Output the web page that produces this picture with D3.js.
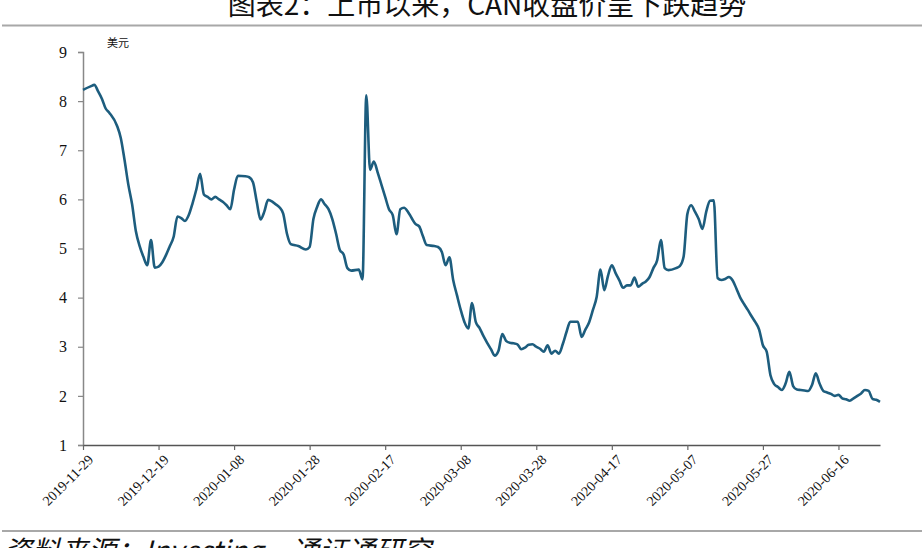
<!DOCTYPE html>
<html><head><meta charset="utf-8">
<script src="https://cdn.jsdelivr.net/npm/d3@7"></script>
<style>
html,body{margin:0;padding:0;background:#fff;overflow:hidden;}
svg{display:block;}
</style></head>
<body>
<svg id="chart" width="924" height="548"></svg>
<script>
const titleText = "图表2：上市以来，CAN收盘价呈下跌趋势";
const sourceText = "资料来源：Investing，通证通研究";
const unitLabel = "美元";
const yTicks = [1,2,3,4,5,6,7,8,9];
const xTickLabels = ["2019-11-29","2019-12-19","2020-01-08","2020-01-28","2020-02-17","2020-03-08","2020-03-28","2020-04-17","2020-05-07","2020-05-27","2020-06-16"];
const dates = [
"2019-11-29","2019-12-01","2019-12-02","2019-12-03","2019-12-04","2019-12-05","2019-12-06","2019-12-08","2019-12-09","2019-12-10",
"2019-12-11","2019-12-12","2019-12-13","2019-12-14","2019-12-15","2019-12-16","2019-12-17","2019-12-18","2019-12-19","2019-12-20",
"2019-12-21","2019-12-22","2019-12-23","2019-12-24","2019-12-25","2019-12-26","2019-12-27","2019-12-28","2019-12-29","2019-12-30",
"2019-12-31","2020-01-01","2020-01-02","2020-01-03","2020-01-04","2020-01-05","2020-01-06","2020-01-07","2020-01-08","2020-01-09",
"2020-01-11","2020-01-12","2020-01-13","2020-01-14","2020-01-15","2020-01-16","2020-01-17","2020-01-18","2020-01-19","2020-01-20",
"2020-01-21","2020-01-22","2020-01-23","2020-01-25","2020-01-27","2020-01-28","2020-01-29","2020-01-30","2020-01-31","2020-02-01",
"2020-02-02","2020-02-03","2020-02-04","2020-02-05","2020-02-06","2020-02-07","2020-02-08","2020-02-10","2020-02-11","2020-02-12",
"2020-02-13","2020-02-14","2020-02-15","2020-02-16","2020-02-17","2020-02-18","2020-02-19","2020-02-20","2020-02-21","2020-02-22",
"2020-02-23","2020-02-24","2020-02-25","2020-02-26","2020-02-27","2020-02-28","2020-03-01","2020-03-02","2020-03-03","2020-03-04",
"2020-03-05","2020-03-06","2020-03-07","2020-03-08","2020-03-09","2020-03-10","2020-03-11","2020-03-12","2020-03-13","2020-03-14",
"2020-03-15","2020-03-16","2020-03-17","2020-03-18","2020-03-19","2020-03-20","2020-03-21","2020-03-22","2020-03-23","2020-03-24",
"2020-03-25","2020-03-26","2020-03-27","2020-03-28","2020-03-29","2020-03-30","2020-03-31","2020-04-01","2020-04-02","2020-04-03",
"2020-04-04","2020-04-05","2020-04-06","2020-04-08","2020-04-09","2020-04-10","2020-04-11","2020-04-12","2020-04-13","2020-04-14",
"2020-04-15","2020-04-16","2020-04-17","2020-04-18","2020-04-19","2020-04-20","2020-04-21","2020-04-22","2020-04-23","2020-04-24",
"2020-04-25","2020-04-26","2020-04-27","2020-04-28","2020-04-29","2020-04-30","2020-05-01","2020-05-02","2020-05-04","2020-05-05",
"2020-05-06","2020-05-07","2020-05-08","2020-05-09","2020-05-10","2020-05-11","2020-05-12","2020-05-13","2020-05-14","2020-05-15",
"2020-05-16","2020-05-17","2020-05-18","2020-05-19","2020-05-20","2020-05-21","2020-05-22","2020-05-23","2020-05-24","2020-05-25",
"2020-05-26","2020-05-27","2020-05-28","2020-05-29","2020-05-30","2020-05-31","2020-06-01","2020-06-02","2020-06-03","2020-06-04",
"2020-06-05","2020-06-06","2020-06-07","2020-06-08","2020-06-09","2020-06-10","2020-06-11","2020-06-12","2020-06-13","2020-06-14",
"2020-06-15","2020-06-16","2020-06-17","2020-06-18","2020-06-19","2020-06-20","2020-06-21","2020-06-22","2020-06-23","2020-06-24",
"2020-06-25","2020-06-26","2020-06-27"];
const closePrices = [
8.23,8.30,8.33,8.20,8.05,7.85,7.76,7.50,7.25,6.80,
6.30,5.90,5.35,5.05,4.83,4.66,5.17,4.61,4.63,4.72,
4.87,5.05,5.24,5.65,5.62,5.56,5.68,5.92,6.20,6.52,
6.10,6.05,6.00,6.05,6.00,5.95,5.88,5.80,6.20,6.48,
6.47,6.45,6.35,5.95,5.59,5.75,5.99,5.96,5.90,5.84,
5.71,5.30,5.09,5.05,4.98,5.03,5.60,5.85,6.00,5.90,
5.80,5.60,5.30,4.97,4.88,4.60,4.55,4.57,4.37,8.12,
6.60,6.77,6.55,6.30,6.05,5.80,5.68,5.29,5.80,5.83,
5.75,5.62,5.50,5.45,5.25,5.07,5.05,5.03,4.93,4.66,
4.82,4.36,4.05,3.75,3.50,3.37,3.89,3.50,3.38,3.22,
3.08,2.95,2.82,2.92,3.26,3.12,3.08,3.07,3.05,2.95,
2.98,3.04,3.05,3.00,2.96,2.90,3.03,2.86,2.92,2.86,
3.05,3.30,3.51,3.51,3.20,3.35,3.50,3.75,4.02,4.57,
4.15,4.45,4.66,4.50,4.35,4.20,4.25,4.25,4.41,4.22,
4.28,4.33,4.42,4.60,4.76,5.17,4.60,4.56,4.60,4.64,
4.83,5.70,5.88,5.75,5.60,5.40,5.75,5.97,5.98,4.40,
4.36,4.38,4.42,4.35,4.18,4.00,3.87,3.75,3.62,3.50,
3.35,3.03,2.90,2.42,2.24,2.18,2.12,2.25,2.49,2.20,
2.13,2.12,2.11,2.10,2.22,2.46,2.25,2.10,2.07,2.04,
2.00,2.02,1.95,1.93,1.90,1.95,2.00,2.05,2.12,2.10,
1.94,1.92,1.88];

const parse = d3.timeParse("%Y-%m-%d");
const data = dates.map((d,i)=>({date: parse(d), value: closePrices[i]}));

const svg = d3.select("#chart");
const mLeft = 83, mRight = 880, mTop = 52, mBottom = 445;

const x = d3.scaleTime()
  .domain([parse("2019-11-29"), parse("2020-06-27")])
  .range([mLeft, mRight]);
const y = d3.scaleLinear().domain([1, 9]).range([mBottom, mTop]);

// title (partially cut at top, as in the reference)
svg.append("text")
  .attr("x", 487).attr("y", 15)
  .attr("text-anchor", "middle")
  .attr("font-family", "'Noto Sans CJK SC', 'Liberation Serif', serif")
  .attr("font-size", 28)
  .attr("fill", "#111")
  .text(titleText);

// separator lines
svg.append("line").attr("x1", 2).attr("x2", 922).attr("y1", 25.5).attr("y2", 25.5)
  .attr("stroke", "#a8a8a8").attr("stroke-width", 2);
svg.append("line").attr("x1", 2).attr("x2", 922).attr("y1", 531).attr("y2", 531)
  .attr("stroke", "#a8a8a8").attr("stroke-width", 2);

// source (cut at bottom, as in the reference)
svg.append("text")
  .attr("x", 4).attr("y", 561)
  .attr("font-family", "'Noto Sans CJK SC', 'Liberation Serif', serif")
  .attr("font-size", 28)
  .attr("font-style", "italic")
  .attr("fill", "#111")
  .text(sourceText);

// y axis
const yAxis = svg.append("g").attr("transform", `translate(${mLeft},0)`)
  .call(d3.axisLeft(y).tickValues(yTicks).tickFormat(d3.format("d")).tickSize(5).tickPadding(11));
yAxis.select(".domain").attr("stroke", "#888").attr("stroke-width", 1.5);
yAxis.selectAll(".tick line").attr("stroke", "#888").attr("stroke-width", 1.2);
yAxis.selectAll(".tick text")
  .attr("font-family", "'Liberation Serif', 'Times New Roman', serif")
  .attr("font-size", 16).attr("fill", "#111");

// x axis
const xAxis = svg.append("g").attr("transform", `translate(0,${mBottom})`)
  .call(d3.axisBottom(x).tickValues(xTickLabels.map(parse))
    .tickFormat(d3.timeFormat("%Y-%m-%d")).tickSize(5).tickSizeOuter(0));
xAxis.select(".domain").attr("stroke", "#555").attr("stroke-width", 1.5);
xAxis.selectAll(".tick line").attr("stroke", "#666").attr("stroke-width", 1.2);
xAxis.selectAll(".tick text")
  .attr("font-family", "'Liberation Serif', 'Times New Roman', serif")
  .attr("font-size", 14).attr("fill", "#111")
  .attr("text-anchor", "end")
  .attr("dy", null)
  .attr("transform", "translate(5,10) rotate(-45)");

// unit label
svg.append("text")
  .attr("x", 107).attr("y", 47)
  .attr("font-family", "'Noto Sans CJK SC', serif")
  .attr("font-size", 11).attr("fill", "#111")
  .text(unitLabel);

// line
const line = d3.line()
  .x(d => x(d.date)).y(d => y(d.value))
  .curve(d3.curveMonotoneX);
svg.append("path").datum(data)
  .attr("d", line)
  .attr("fill", "none")
  .attr("stroke", "#1d5d7e")
  .attr("stroke-width", 2.6)
  .attr("stroke-linejoin", "round");
</script>
</body></html>
